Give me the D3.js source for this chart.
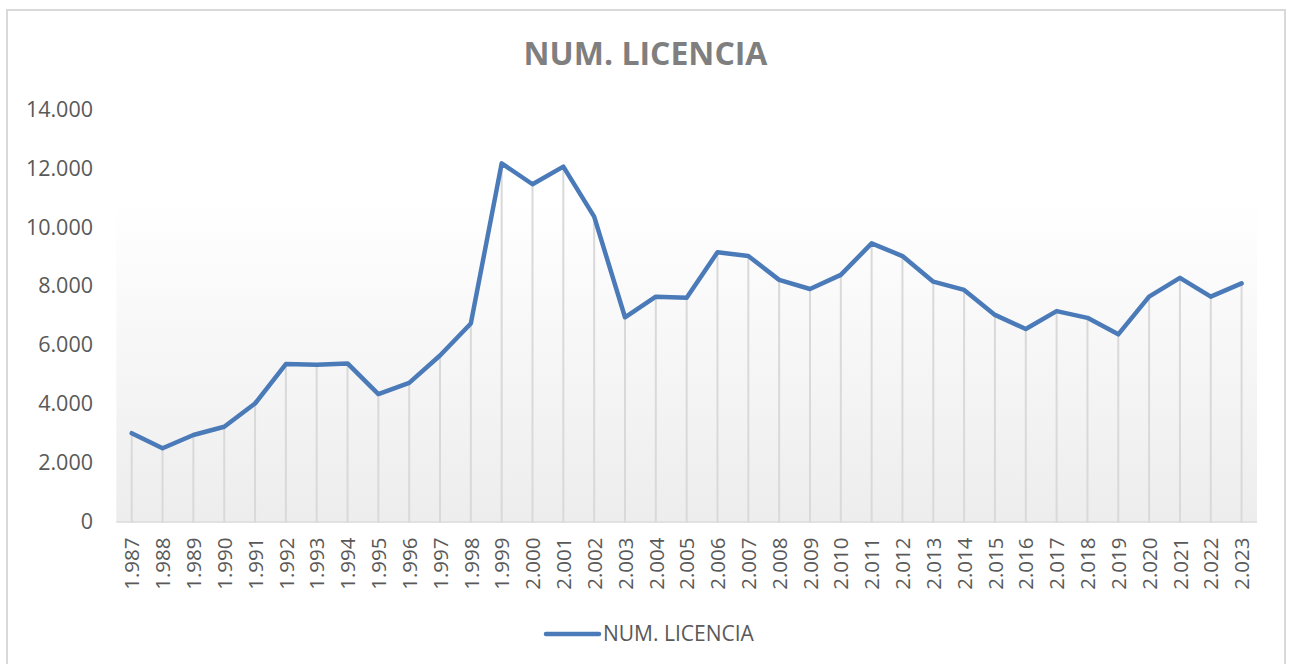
<!DOCTYPE html>
<html>
<head>
<meta charset="utf-8">
<script src="https://cdn.jsdelivr.net/npm/d3@7"></script>
<style>
  html, body { margin: 0; padding: 0; background: #ffffff; }
  svg { display: block; }
</style>
</head>
<body>
<svg id="chart" width="1289" height="664"></svg>
<script>
// ---- data ----
const years = [1987,1988,1989,1990,1991,1992,1993,1994,1995,1996,1997,1998,1999,2000,2001,2002,2003,2004,2005,2006,2007,2008,2009,2010,2011,2012,2013,2014,2015,2016,2017,2018,2019,2020,2021,2022,2023];
const licencias = [3000,2490,2940,3220,4010,5350,5330,5370,4330,4710,5640,6730,12170,11460,12060,10360,6940,7640,7600,9150,9020,8210,7900,8380,9450,9020,8150,7870,7020,6540,7150,6920,6360,7640,8280,7640,8090];
const yTicks = [0,2000,4000,6000,8000,10000,12000,14000];
const seriesName = "NUM. LICENCIA";
const chartTitle = "NUM. LICENCIA";

// ---- setup ----
const es = d3.formatLocale({decimal: ",", thousands: ".", grouping: [3], currency: ["", "€"]});
const fmt = es.format(",");
const FONT = "'Open Sans', 'Noto Sans', sans-serif";
const TEXT = "#595959";
const LINE = "#4a7ab8";

const svg = d3.select("#chart");

const x = d3.scalePoint().domain(years).range([116.3, 1257]).padding(0.5);
const y = d3.scaleLinear().domain([0, 14000]).range([521.5, 109.5]);

// chart frame
svg.append("rect")
  .attr("x", 7).attr("y", 10).attr("width", 1278).attr("height", 670)
  .attr("fill", "#ffffff").attr("stroke", "#d9d9d9").attr("stroke-width", 2);

// gradient plot background
const defs = svg.append("defs");
const grad = defs.append("linearGradient").attr("id", "bg").attr("x1", 0).attr("y1", 0).attr("x2", 0).attr("y2", 1);
grad.append("stop").attr("offset", "0%").attr("stop-color", "#ffffff");
grad.append("stop").attr("offset", "100%").attr("stop-color", "#ededed");
svg.append("rect")
  .attr("x", 116.3).attr("y", 200).attr("width", 1257 - 116.3).attr("height", y(0) - 200)
  .attr("fill", "url(#bg)");

// axis line
svg.append("line")
  .attr("x1", 116.3).attr("x2", 1257).attr("y1", y(0) + 0.5).attr("y2", y(0) + 0.5)
  .attr("stroke", "#d9d9d9").attr("stroke-width", 1.5);

// drop lines
svg.append("g").selectAll("line").data(years).join("line")
  .attr("x1", d => x(d)).attr("x2", d => x(d))
  .attr("y1", (d, i) => y(licencias[i])).attr("y2", y(0) + 1)
  .attr("stroke", "#d9d9d9").attr("stroke-width", 2);

// y axis
const yAxis = svg.append("g")
  .attr("transform", "translate(93,0)")
  .call(d3.axisLeft(y).tickValues(yTicks).tickFormat(fmt).tickSize(0).tickPadding(0));
yAxis.select(".domain").remove();
yAxis.selectAll("text")
  .attr("font-family", FONT).attr("font-size", 21.5).attr("fill", TEXT);

// x axis
const xAxis = svg.append("g")
  .attr("transform", `translate(0,${y(0)})`)
  .call(d3.axisBottom(x).tickFormat(d => fmt(d)).tickSize(0));
xAxis.select(".domain").remove();
xAxis.selectAll("text")
  .attr("font-family", FONT).attr("font-size", 20.5).attr("fill", TEXT)
  .attr("text-anchor", "end")
  .attr("transform", "translate(0,16) rotate(-90)")
  .attr("x", 0).attr("y", 0).attr("dy", "0.35em");

// line
const lineGen = d3.line().x((d, i) => x(years[i])).y(d => y(d));
svg.append("path")
  .datum(licencias)
  .attr("d", lineGen)
  .attr("fill", "none")
  .attr("stroke", LINE)
  .attr("stroke-width", 4.5)
  .attr("stroke-linejoin", "round")
  .attr("stroke-linecap", "round");

// title
svg.append("text")
  .attr("x", 645.5).attr("y", 65)
  .attr("text-anchor", "middle")
  .attr("font-family", FONT).attr("font-weight", "bold").attr("font-size", 32)
  .attr("fill", "#7f7f7f")
  .text(chartTitle);

// legend
const lg = svg.append("g");
lg.append("line")
  .attr("x1", 546).attr("x2", 599).attr("y1", 634).attr("y2", 634)
  .attr("stroke", LINE).attr("stroke-width", 4.5).attr("stroke-linecap", "round");
lg.append("text")
  .attr("x", 603).attr("y", 634).attr("dy", "0.35em")
  .attr("font-family", FONT).attr("font-size", 21).attr("fill", TEXT)
  .text(seriesName);
</script>
</body>
</html>
